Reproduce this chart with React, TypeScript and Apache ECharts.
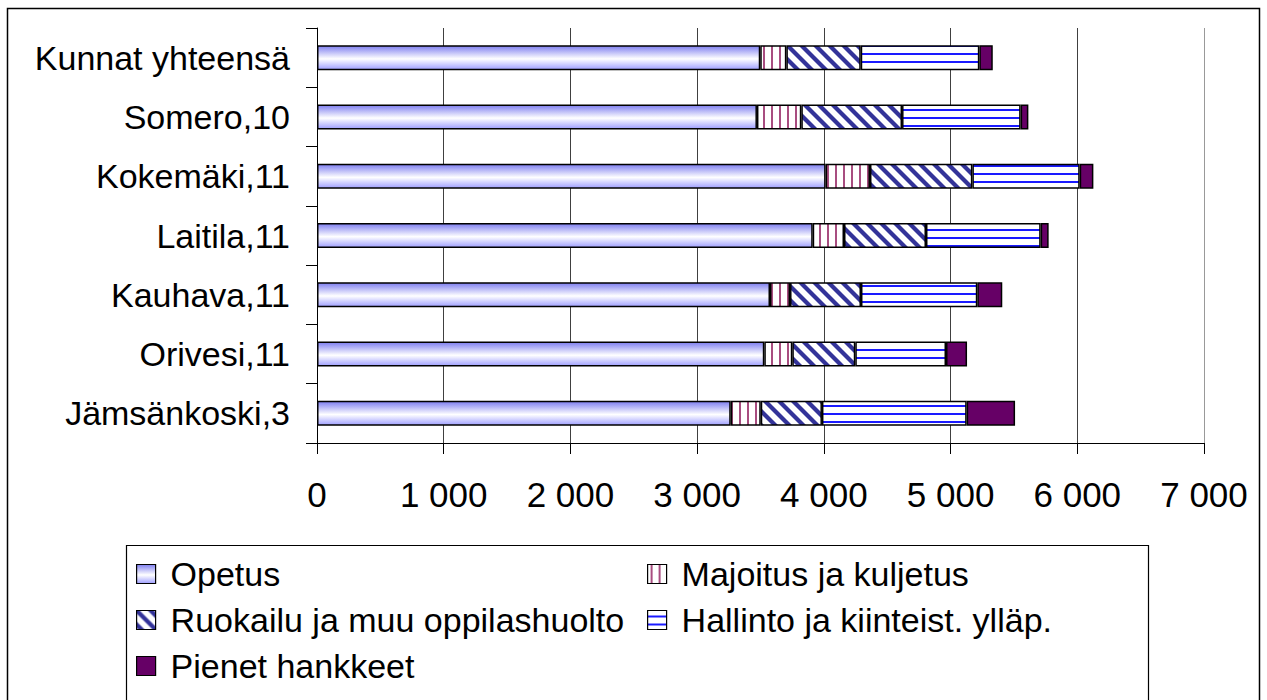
import React, { useEffect, useRef } from 'react';
import * as echarts from 'echarts';

const categories = ['Jämsänkoski,3', 'Orivesi,11', 'Kauhava,11', 'Laitila,11', 'Kokemäki,11', 'Somero,10', 'Kunnat yhteensä'];
const seriesNames = ['Opetus', 'Majoitus ja kuljetus', 'Ruokailu ja muu oppilashuolto', 'Hallinto ja kiinteist. ylläp.', 'Pienet hankkeet'];
const opetus = [3265, 3530, 3575, 3912, 4014, 3472, 3498];
const majoitus = [237, 221, 158, 247, 350, 350, 206];
const ruokailu = [483, 497, 560, 647, 808, 795, 587];
const hallinto = [1142, 716, 918, 905, 847, 936, 936];
const pienet = [382, 166, 197, 63, 108, 61, 106];
const xMin = 0;
const xMax = 7000;
const xInterval = 1000;

const FONT = '"Liberation Sans", Arial, sans-serif';

function makeCanvas(w: number, h: number, draw: (ctx: CanvasRenderingContext2D) => void) {
  const c = document.createElement('canvas');
  c.width = w;
  c.height = h;
  const ctx = c.getContext('2d') as CanvasRenderingContext2D;
  draw(ctx);
  return c;
}

function fmt(v: number) {
  return String(v).replace(/\B(?=(\d{3})+(?!\d))/g, ' ');
}

export default function App() {
  const ref = useRef<HTMLDivElement>(null);
  useEffect(() => {
    if (!ref.current) return;
    const chart = echarts.init(ref.current, undefined, { renderer: 'svg' });

    const majoitusImg = makeCanvas(8, 8, (ctx) => {
      ctx.fillStyle = '#ffffff';
      ctx.fillRect(0, 0, 8, 8);
      ctx.fillStyle = '#a84d80';
      ctx.fillRect(3, 0, 2, 8);
    });
    const hallintoImg = makeCanvas(8, 8, (ctx) => {
      ctx.fillStyle = '#ffffff';
      ctx.fillRect(0, 0, 8, 8);
      ctx.fillStyle = '#1a1aff';
      ctx.fillRect(0, 5, 8, 2);
    });
    const P = 14;
    const ruokailuImg = makeCanvas(P, P, (ctx) => {
      ctx.fillStyle = '#ffffff';
      ctx.fillRect(0, 0, P, P);
      ctx.strokeStyle = '#333399';
      ctx.lineWidth = 4.2;
      for (const k of [-1, 0, 1]) {
        ctx.beginPath();
        ctx.moveTo(k * P - 2, -2);
        ctx.lineTo(k * P + P + 2, P + 2);
        ctx.stroke();
      }
    });

    const opetusFill = new echarts.graphic.LinearGradient(0, 0, 0, 1, [
      { offset: 0, color: '#7f7ff0' },
      { offset: 0.55, color: '#ffffff' },
      { offset: 1, color: '#a0a0ff' },
    ]);

    const fills: any[] = [
      opetusFill,
      { image: majoitusImg, repeat: 'repeat' },
      { image: ruokailuImg, repeat: 'repeat' },
      { image: hallintoImg, repeat: 'repeat' },
      '#660066',
    ];
    const values = [opetus, majoitus, ruokailu, hallinto, pienet];

    const legendCommon = {
      orient: 'vertical',
      top: 552,
      itemWidth: 19,
      itemHeight: 19,
      itemGap: 12,
      icon: 'rect',
      selectedMode: false,
      textStyle: { fontSize: 34, color: '#000', fontFamily: FONT, padding: [0, 0, 0, 10] },
      itemStyle: { borderColor: '#000', borderWidth: 1.2 },
    };

    const splitColors: string[] = [];
    for (let v = xMin; v <= xMax; v += xInterval) splitColors.push(v === xMax ? '#999999' : '#404040');

    chart.setOption({
      animation: false,
      backgroundColor: '#ffffff',
      textStyle: { fontFamily: FONT },
      grid: { left: 317, top: 28, width: 887, height: 415, containLabel: false },
      xAxis: {
        type: 'value',
        min: xMin,
        max: xMax,
        interval: xInterval,
        axisLine: { show: true, lineStyle: { color: '#000', width: 1 } },
        axisTick: { show: true, length: 11, lineStyle: { color: '#000', width: 1 } },
        axisLabel: { fontSize: 35, color: '#000', fontFamily: FONT, margin: 34, formatter: (v: number) => fmt(v) },
        splitLine: { show: true, lineStyle: { color: splitColors, width: 1 } },
      },
      yAxis: {
        type: 'category',
        data: categories,
        axisLine: { show: true, lineStyle: { color: '#000', width: 1 } },
        axisTick: { show: true, length: 11, lineStyle: { color: '#000', width: 1 } },
        axisLabel: { fontSize: 34, color: '#000', fontFamily: FONT, margin: 27 },
        splitLine: { show: false },
      },
      legend: [
        { ...legendCommon, left: 131, data: [seriesNames[0], seriesNames[2], seriesNames[4]] },
        { ...legendCommon, left: 642, data: [seriesNames[1], seriesNames[3]] },
      ],
      graphic: [
        {
          type: 'rect',
          silent: true,
          shape: { x: 7.5, y: 8.5, width: 1252, height: 720 },
          style: { fill: 'none', stroke: '#000', lineWidth: 1.5 },
        },
        {
          type: 'rect',
          silent: true,
          shape: { x: 126.5, y: 545.5, width: 1022, height: 160 },
          style: { fill: 'none', stroke: '#000', lineWidth: 1.2 },
        },
      ],
      series: seriesNames.map((name, i) => ({
        name,
        type: 'bar',
        stack: 'total',
        barWidth: 25,
        data: values[i],
        itemStyle: { color: fills[i], borderColor: '#000', borderWidth: 1.5 },
        emphasis: { disabled: true },
      })),
    });

    return () => chart.dispose();
  }, []);

  return (
    <div
      ref={ref}
      style={{ position: 'absolute', left: 0, top: 0, width: 1267, height: 700, background: '#fff' }}
    />
  );
}
